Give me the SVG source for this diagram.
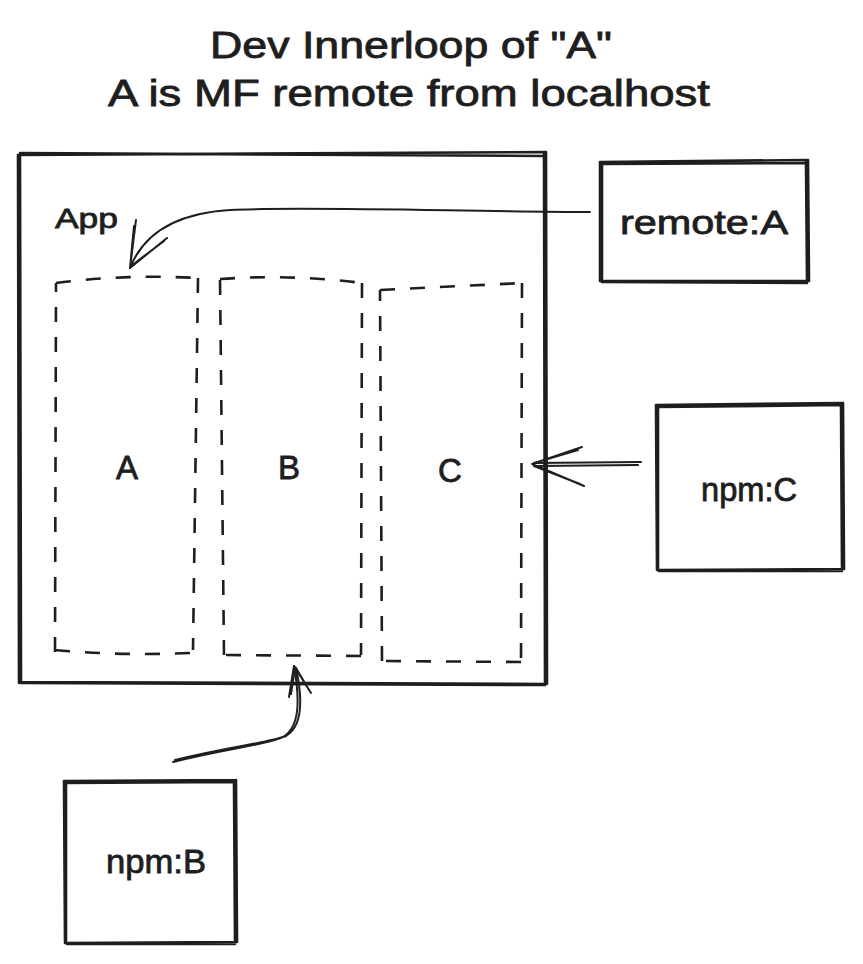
<svg xmlns="http://www.w3.org/2000/svg" width="863" height="964" viewBox="0 0 863 964">
<style>
.sk{fill:none;stroke:#1e1e1e;stroke-width:2;stroke-linecap:round;stroke-linejoin:round}
.thick{stroke-width:2.6}
.dash{fill:none;stroke:#1e1e1e;stroke-width:2.6;stroke-dasharray:15 15;stroke-linecap:butt}
.t{font-family:"Liberation Sans",Arial,sans-serif;fill:#1e1e1e;stroke:#1e1e1e;stroke-width:0.8}
</style>
<rect width="863" height="964" fill="#ffffff"/>
<g id="title">
<text class="t" x="411" y="58" font-size="36" text-anchor="middle" textLength="402" lengthAdjust="spacingAndGlyphs">Dev Innerloop of "A"</text>
<text class="t" x="409" y="106" font-size="36" text-anchor="middle" textLength="602" lengthAdjust="spacingAndGlyphs">A is MF remote from localhost</text>
</g>
<g id="app">
<path class="sk thick" d="M18 155 L546 152 M20 153 L544 156 M546 152 L547 684 M544 154 L545 682 M547 684 L19 682 M545 685 L21 683 M18 155 L19 683 M20 157 L21 681"/>
<text class="t" x="55" y="228" font-size="28" textLength="63" lengthAdjust="spacingAndGlyphs">App</text>
</g>
<g id="slotA">
<path class="dash" d="M56 283 Q125 274 198 278 M198 278 L193 650 M190 653 Q120 656 55 650 M55 652 L56 283"/>
<text class="t" x="127" y="479" font-size="33" text-anchor="middle">A</text>
</g>
<g id="slotB">
<path class="dash" d="M220 279 Q290 274 362 283 M362 283 L361 655 M361 656 L224 655 M224 655 L220 279"/>
<text class="t" x="289" y="479" font-size="33" text-anchor="middle">B</text>
</g>
<g id="slotC">
<path class="dash" d="M380 290 L522 283 M522 283 L521 662 M521 662 L382 661 M382 661 L380 290"/>
<text class="t" x="450" y="482" font-size="33" text-anchor="middle">C</text>
</g>
<g id="remoteA">
<path class="sk thick" d="M600 162 L808 160 M602 164 L806 163 M808 160 L809 281 M806 162 L807 279 M809 281 L600 281 M807 283 L602 282 M600 162 L600 281 M602 164 L602 279"/>
<text class="t" x="704" y="234" font-size="33" text-anchor="middle" textLength="168" lengthAdjust="spacingAndGlyphs">remote:A</text>
</g>
<g id="npmC">
<path class="sk thick" d="M656 405 L843 403 M658 407 L841 405 M843 403 L844 569 M841 405 L842 567 M844 569 L657 570 M842 571 L659 571 M656 405 L657 570 M658 407 L658 568"/>
<text class="t" x="749" y="501" font-size="33" text-anchor="middle" textLength="96" lengthAdjust="spacingAndGlyphs">npm:C</text>
</g>
<g id="npmB">
<path class="sk thick" d="M64 781 L236 780 M66 783 L234 782 M236 780 L237 942 M234 782 L235 940 M237 942 L65 943 M235 944 L67 944 M64 781 L65 943 M66 783 L66 941"/>
<text class="t" x="156" y="873" font-size="33" text-anchor="middle" textLength="100" lengthAdjust="spacingAndGlyphs">npm:B</text>
</g>
<g id="connectors">
<path class="sk" d="M590 212 C480 212 300 206 230 210 C180 213 145 230 130 268"/>
<path class="sk" d="M130 268 L136 220 M130 268 L134 226 M130 268 L167 238 M131 266 L164 241"/>
<path class="sk" d="M641 462 L534 463 M638 465 L536 466"/>
<path class="sk" d="M532 464 L582 447 M534 463 L578 450 M532 464 L584 486 M534 466 L580 484"/>
<path class="sk" d="M173 762 C230 748 265 745 283 737 C300 727 300 700 294 666 M175 760 C232 746 268 743 286 736 C303 726 303 700 296 668"/>
<path class="sk" d="M294 666 L289 697 M295 667 L291 694 M294 666 L311 693 M296 668 L309 690"/>
</g>
</svg>
